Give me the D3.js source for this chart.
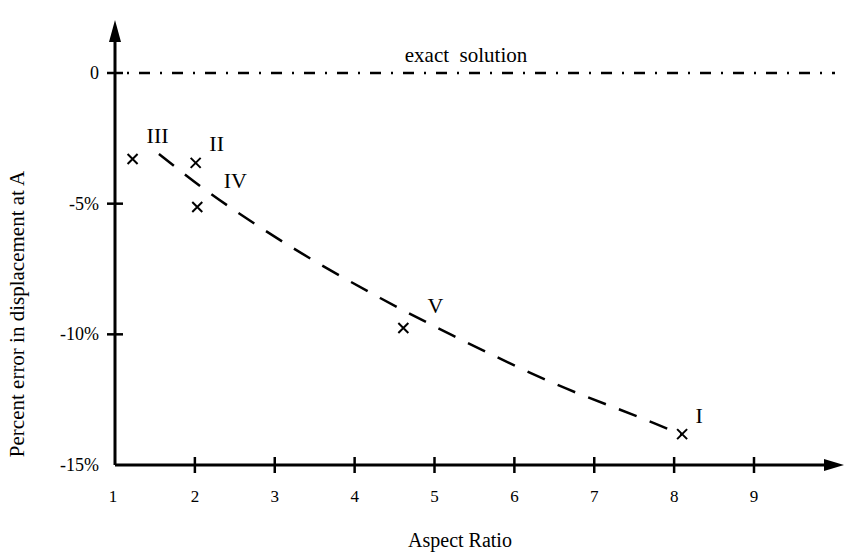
<!DOCTYPE html>
<html>
<head>
<meta charset="utf-8">
<script src="https://cdn.jsdelivr.net/npm/d3@7"></script>
<style>
  body { margin: 0; background: #fff; }
  text { font-family: "Liberation Serif", "DejaVu Serif", serif; fill: #000; }
</style>
</head>
<body>
<div id="main-div"></div>
<script>
// cases: aspect ratio vs percent error
var caseNames = ["III", "II", "IV", "V", "I"];
var caseRatio = [1.22, 2.01, 2.03, 4.61, 8.10];
var caseError = [-3.29, -3.44, -5.13, -9.76, -13.82];

// dashed trend curve
var trendRatio = [1.55, 2.10, 2.85, 4.32, 5.22, 6.46, 7.74, 8.10];
var trendError = [-3.10, -4.40, -5.97, -8.61, -10.03, -11.83, -13.39, -13.85];

var xTicks = [1, 2, 3, 4, 5, 6, 7, 8, 9];
var yTicks = [0, -5, -10, -15];
var yTickLabels = ["0", "-5%", "-10%", "-15%"];

var width = 845,
  height = 557;

var svg = d3
  .select("#main-div")
  .append("svg")
  .attr("width", width)
  .attr("height", height);

var x = d3.scaleLinear().domain([1, 9]).range([115, 754]);
var y = d3.scaleLinear().domain([0, -15]).range([73, 465]);

var axisX0 = x(1),
  axisY0 = y(-15);

// axes lines with arrows
svg
  .append("line")
  .attr("x1", axisX0)
  .attr("y1", axisY0)
  .attr("x2", axisX0)
  .attr("y2", 36)
  .attr("stroke", "#000")
  .attr("stroke-width", 3);
svg
  .append("path")
  .attr("d", d3.line()([[axisX0 - 6, 42], [axisX0, 20], [axisX0 + 6, 42]]) + "Z")
  .attr("fill", "#000");

svg
  .append("line")
  .attr("x1", axisX0)
  .attr("y1", axisY0)
  .attr("x2", 828)
  .attr("y2", axisY0)
  .attr("stroke", "#000")
  .attr("stroke-width", 3);
svg
  .append("path")
  .attr("d", d3.line()([[824, axisY0 - 6], [844, axisY0], [824, axisY0 + 6]]) + "Z")
  .attr("fill", "#000");

// x ticks
svg
  .selectAll(".xtick")
  .data(xTicks.filter(function (d) { return d > 1; }))
  .enter()
  .append("line")
  .attr("class", "xtick")
  .attr("x1", function (d) { return x(d); })
  .attr("x2", function (d) { return x(d); })
  .attr("y1", axisY0 - 8)
  .attr("y2", axisY0 + 8)
  .attr("stroke", "#000")
  .attr("stroke-width", 2.5);

svg
  .selectAll(".xlabel")
  .data(xTicks)
  .enter()
  .append("text")
  .attr("class", "xlabel")
  .attr("x", function (d) { return x(d) - (d === 1 ? 2 : 0); })
  .attr("y", axisY0 + 37)
  .attr("text-anchor", "middle")
  .attr("font-size", 17)
  .text(function (d) { return d; });

// y ticks
svg
  .selectAll(".ytick")
  .data(yTicks.filter(function (d) { return d > -15; }))
  .enter()
  .append("line")
  .attr("class", "ytick")
  .attr("x1", axisX0 - 8)
  .attr("x2", axisX0 + 8)
  .attr("y1", function (d) { return y(d); })
  .attr("y2", function (d) { return y(d); })
  .attr("stroke", "#000")
  .attr("stroke-width", 2.5);

svg
  .selectAll(".ylabel")
  .data(yTicks)
  .enter()
  .append("text")
  .attr("class", "ylabel")
  .attr("x", axisX0 - 16)
  .attr("y", function (d) { return y(d) + 6; })
  .attr("text-anchor", "end")
  .attr("font-size", 18)
  .text(function (d, i) { return yTickLabels[i]; });

// exact solution line at 0
svg
  .append("line")
  .attr("x1", axisX0 + 12)
  .attr("x2", 835)
  .attr("y1", y(0))
  .attr("y2", y(0))
  .attr("stroke", "#000")
  .attr("stroke-width", 2.5)
  .attr("stroke-dasharray", "2,10,11,10");

svg
  .append("text")
  .attr("x", 466)
  .attr("y", y(0) - 11)
  .attr("text-anchor", "middle")
  .attr("font-size", 21)
  .style("white-space", "pre")
  .text("exact  solution");

// dashed trend
var trend = trendRatio.map(function (d, i) { return [d, trendError[i]]; });
svg
  .append("path")
  .datum(trend)
  .attr(
    "d",
    d3
      .line()
      .x(function (d) { return x(d[0]); })
      .y(function (d) { return y(d[1]); })
      .curve(d3.curveMonotoneX)
  )
  .attr("fill", "none")
  .attr("stroke", "#000")
  .attr("stroke-width", 2.5)
  .attr("stroke-dasharray", "19,14");

// markers
var s = 5;
svg
  .selectAll(".mark")
  .data(caseRatio)
  .enter()
  .append("path")
  .attr("class", "mark")
  .attr("d", function (d, i) {
    var cx = x(d), cy = y(caseError[i]);
    return "M" + (cx - s) + "," + (cy - s) + "L" + (cx + s) + "," + (cy + s) +
      "M" + (cx - s) + "," + (cy + s) + "L" + (cx + s) + "," + (cy - s);
  })
  .attr("stroke", "#000")
  .attr("stroke-width", 2);

// case labels, offset from each marker
var labelOffset = {
  III: [25, -16],
  II: [21, -12],
  IV: [38, -19],
  V: [32, -15],
  I: [17, -11]
};
svg
  .selectAll(".case")
  .data(caseNames)
  .enter()
  .append("text")
  .attr("class", "case")
  .attr("x", function (d, i) { return x(caseRatio[i]) + labelOffset[d][0]; })
  .attr("y", function (d, i) { return y(caseError[i]) + labelOffset[d][1]; })
  .attr("text-anchor", "middle")
  .attr("font-size", 22)
  .text(function (d) { return d; });

// axis titles
svg
  .append("text")
  .attr("x", 460)
  .attr("y", 547)
  .attr("text-anchor", "middle")
  .attr("font-size", 20)
  .text("Aspect Ratio");

svg
  .append("text")
  .attr("transform", "translate(24,314) rotate(-90)")
  .attr("text-anchor", "middle")
  .attr("font-size", 21)
  .text("Percent error in displacement at A");
</script>
</body>
</html>
